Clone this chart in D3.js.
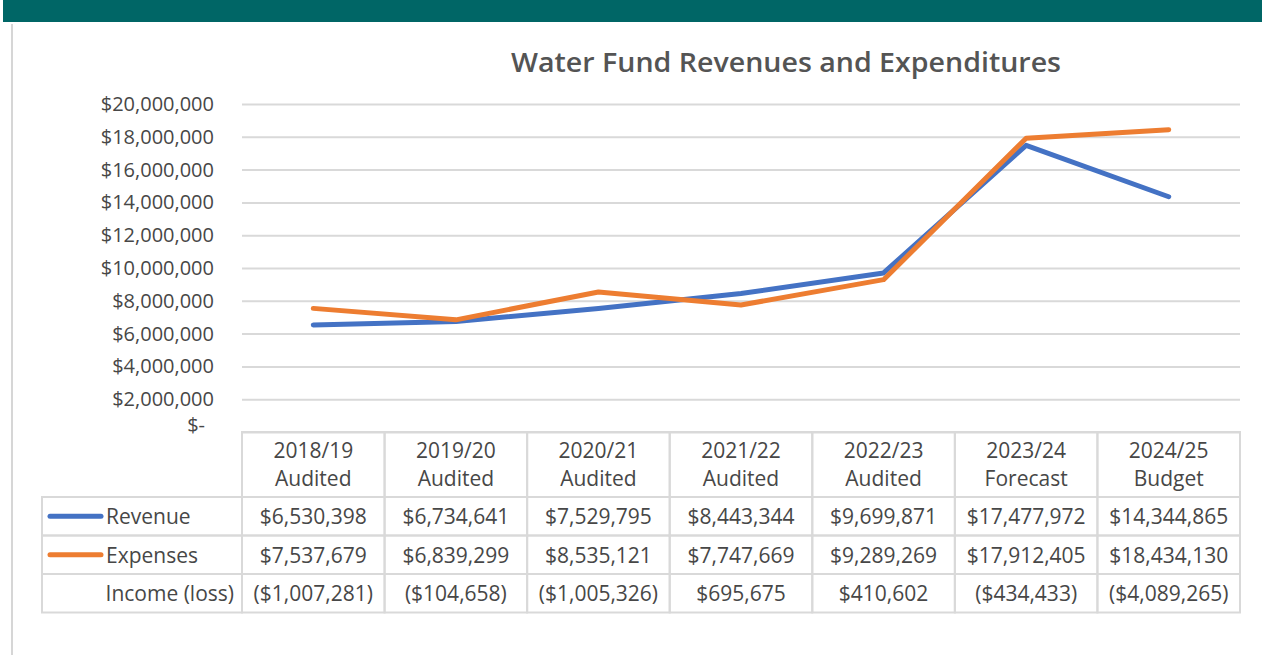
<!DOCTYPE html>
<html>
<head>
<meta charset="utf-8">
<script src="https://cdn.jsdelivr.net/npm/d3@7"></script>
<style>
body { margin:0; background:#fff; }
svg { display:block; font-family:"Open Sans", "Liberation Sans", sans-serif; }
</style>
</head>
<body>
<div id="chart"></div>
<script>
// chart data
var years = ["2018/19", "2019/20", "2020/21", "2021/22", "2022/23", "2023/24", "2024/25"];
var stages = ["Audited", "Audited", "Audited", "Audited", "Audited", "Forecast", "Budget"];
var revenue = [6530398, 6734641, 7529795, 8443344, 9699871, 17477972, 14344865];
var expenses = [7537679, 6839299, 8535121, 7747669, 9289269, 17912405, 18434130];
var income = [-1007281, -104658, -1005326, 695675, 410602, -434433, -4089265];
var yTicks = [0, 2000000, 4000000, 6000000, 8000000, 10000000, 12000000, 14000000, 16000000, 18000000, 20000000];

var W = 1264, H = 655;
var plotLeft = 242, plotRight = 1240, plotTop = 104, plotBottom = 432;
var textCol = "#474747";
var gridCol = "#d9d9d9";

var svg = d3.select("#chart").append("svg")
	.attr("width", W)
	.attr("height", H);

// header band
svg.append("rect")
	.attr("x", 3).attr("y", 0)
	.attr("width", 1259).attr("height", 22)
	.attr("fill", "#006666");
svg.append("line")
	.attr("x1", 12).attr("x2", 12)
	.attr("y1", 24).attr("y2", H)
	.attr("stroke", "#d6d6d6").attr("stroke-width", 2);

var x = d3.scaleBand()
	.domain(years)
	.range([plotLeft, plotRight]);

var y = d3.scaleLinear()
	.domain([0, 20000000])
	.range([plotBottom, plotTop]);

// title
svg.append("text")
	.attr("x", 786)
	.attr("y", 72)
	.attr("text-anchor", "middle")
	.attr("fill", "#545454")
	.style("font-size", "27px")
	.style("font-weight", "600")
	.attr("textLength", 550)
	.attr("lengthAdjust", "spacingAndGlyphs")
	.text("Water Fund Revenues and Expenditures");

// gridlines
var yAxis = d3.axisLeft(y)
	.tickValues(yTicks)
	.tickSize(-(plotRight - plotLeft))
	.tickPadding(28)
	.tickFormat(function(d){
		return d === 0 ? "$-" : "$" + d3.format(",")(d);
	});

var gy = svg.append("g")
	.attr("transform", "translate(" + plotLeft + ",0)")
	.call(yAxis);
gy.select(".domain").remove();
gy.selectAll("line").attr("stroke", gridCol).attr("stroke-width", 2);
gy.selectAll("text")
	.attr("fill", textCol)
	.style("font-size", "20px")
	.style("font-family", "Open Sans");
gy.selectAll(".tick").filter(function(d){ return d === 0; })
	.select("text").attr("dx", -9).attr("dy", "-0.05em");

// lines
var line = d3.line()
	.x(function(d, i){ return x(years[i]) + x.bandwidth() / 2; })
	.y(function(d){ return y(d); });

svg.append("path")
	.attr("d", line(revenue))
	.attr("fill", "none")
	.attr("stroke", "#4472C4")
	.attr("stroke-width", 5)
	.attr("stroke-linejoin", "round")
	.attr("stroke-linecap", "round");

svg.append("path")
	.attr("d", line(expenses))
	.attr("fill", "none")
	.attr("stroke", "#ED7D31")
	.attr("stroke-width", 5)
	.attr("stroke-linejoin", "round")
	.attr("stroke-linecap", "round");

// data table
var headH = 65, rowH = 38.5, tableLeft = 42;
var rows = [
	{ label: "Revenue", values: revenue, color: "#4472C4" },
	{ label: "Expenses", values: expenses, color: "#ED7D31" },
	{ label: "Income (loss)", values: income, color: null }
];

function money(v){
	var s = "$" + d3.format(",")(Math.abs(v));
	return v < 0 ? "(" + s + ")" : s;
}

var table = svg.append("g");

// header cells
table.selectAll(".hcell")
	.data(years)
	.enter()
	.append("rect")
	.attr("x", function(d){ return x(d); })
	.attr("y", plotBottom)
	.attr("width", x.bandwidth())
	.attr("height", headH)
	.attr("fill", "none")
	.attr("stroke", gridCol)
	.attr("stroke-width", 2);

var head = table.selectAll(".htext")
	.data(years)
	.enter()
	.append("text")
	.attr("text-anchor", "middle")
	.attr("fill", textCol)
	.style("font-size", "21px");
head.append("tspan")
	.attr("x", function(d){ return x(d) + x.bandwidth() / 2; })
	.attr("y", plotBottom + 26)
	.text(function(d){ return d; });
head.append("tspan")
	.attr("x", function(d){ return x(d) + x.bandwidth() / 2; })
	.attr("y", plotBottom + 54)
	.text(function(d, i){ return stages[i]; });

rows.forEach(function(r, ri){
	var ry = plotBottom + headH + ri * rowH;
	table.append("rect")
		.attr("x", tableLeft).attr("y", ry)
		.attr("width", plotLeft - tableLeft).attr("height", rowH)
		.attr("fill", "none").attr("stroke", gridCol).attr("stroke-width", 2);
	if (r.color) {
		table.append("line")
			.attr("x1", 50).attr("x2", 101)
			.attr("y1", ry + rowH / 2).attr("y2", ry + rowH / 2)
			.attr("stroke", r.color).attr("stroke-width", 5)
			.attr("stroke-linecap", "round");
	}
	table.append("text")
		.attr("x", r.color ? 106 : 234)
		.attr("y", ry + rowH / 2 + 8)
		.attr("text-anchor", r.color ? "start" : "end")
		.attr("fill", textCol)
		.style("font-size", "21px")
		.text(r.label);

	table.selectAll(".c" + ri)
		.data(r.values)
		.enter()
		.append("rect")
		.attr("x", function(d, i){ return x(years[i]); })
		.attr("y", ry)
		.attr("width", x.bandwidth())
		.attr("height", rowH)
		.attr("fill", "none")
		.attr("stroke", gridCol)
		.attr("stroke-width", 2);

	table.selectAll(".t" + ri)
		.data(r.values)
		.enter()
		.append("text")
		.attr("x", function(d, i){ return x(years[i]) + x.bandwidth() / 2; })
		.attr("y", ry + rowH / 2 + 8)
		.attr("text-anchor", "middle")
		.attr("fill", textCol)
		.style("font-size", "21px")
		.text(function(d){ return money(d); });
});
</script>
</body>
</html>
